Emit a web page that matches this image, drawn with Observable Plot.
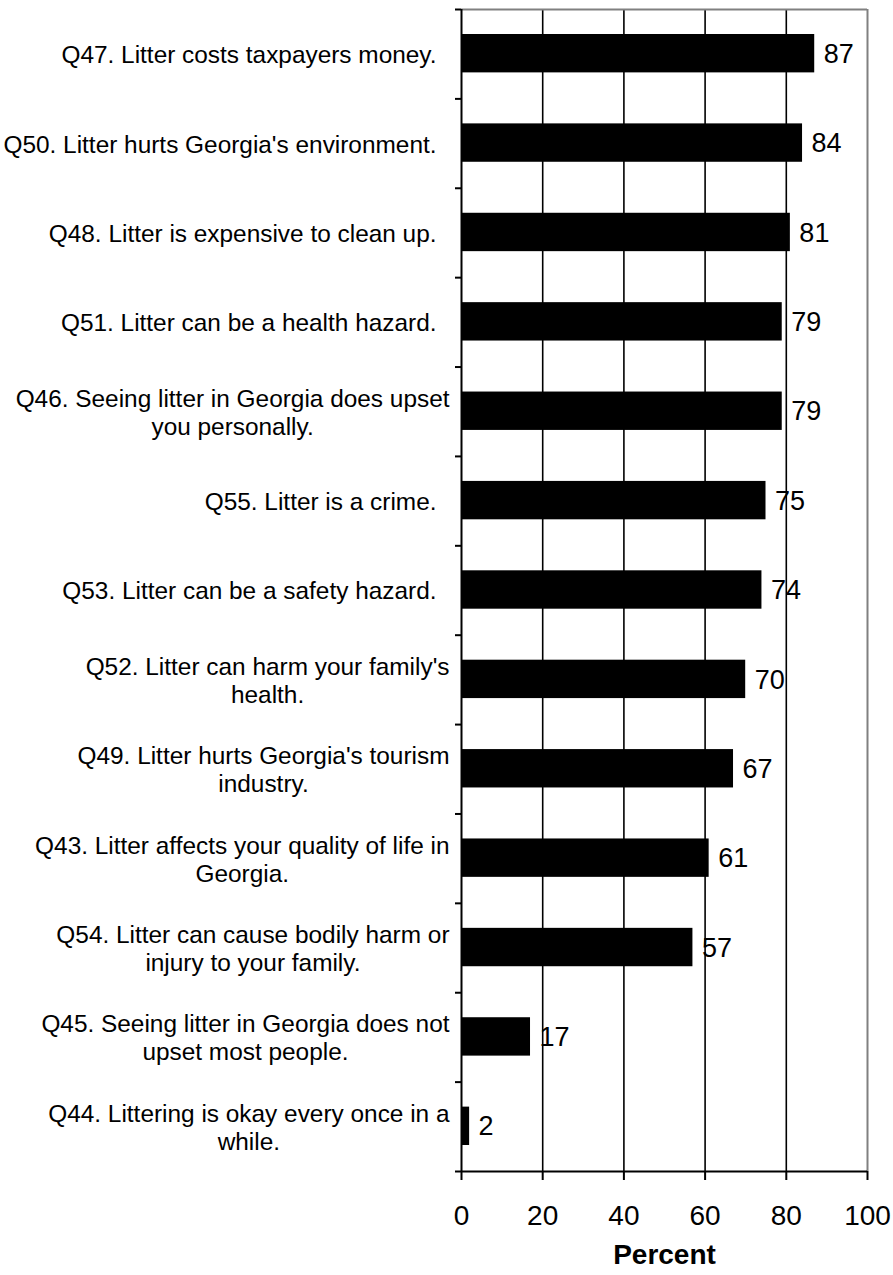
<!DOCTYPE html>
<html>
<head>
<meta charset="utf-8">
<script src="https://cdn.jsdelivr.net/npm/d3@7"></script>
<script src="https://cdn.jsdelivr.net/npm/@observablehq/plot@0.6"></script>
<style>
  html, body { margin: 0; padding: 0; background: #fff; }
  #chart svg { display: block; }
</style>
</head>
<body>
<div id="chart"></div>
<script>
// ---- data ----
const categories = [
  "Q47. Litter costs taxpayers money.",
  "Q50. Litter hurts Georgia's environment.",
  "Q48. Litter is expensive to clean up.",
  "Q51. Litter can be a health hazard.",
  "Q46. Seeing litter in Georgia does upset\nyou personally.",
  "Q55. Litter is a crime.",
  "Q53. Litter can be a safety hazard.",
  "Q52. Litter can harm your family's\nhealth.",
  "Q49. Litter hurts Georgia's tourism\nindustry.",
  "Q43. Litter affects your quality of life in\nGeorgia.",
  "Q54. Litter can cause bodily harm or\ninjury to your family.",
  "Q45. Seeing litter in Georgia does not\nupset most people.",
  "Q44. Littering is okay every once in a\nwhile."
];
const values = [87, 84, 81, 79, 79, 75, 74, 70, 67, 61, 57, 17, 2];
const xTicks = [0, 20, 40, 60, 80, 100];
const xLabel = "Percent";

const data = categories.map((c, i) => ({category: c, value: values[i], i}));

const FONT = "'Liberation Sans', Arial, Helvetica, sans-serif";
const LABEL_SIZE = 24.4;
const ctx = document.createElement("canvas").getContext("2d");
ctx.font = `${LABEL_SIZE}px ${FONT}`;
const blockWidth = s => d3.max(s.split("\n"), l => ctx.measureText(l).width);

const labelMarks = data.map(d => {
  const multi = d.category.includes("\n");
  const gap = multi ? 12 : 25;
  return Plot.text([d], {
    x: () => 0,
    y: r => r.i + 0.5,
    text: r => r.category,
    textAnchor: "middle",
    lineAnchor: "middle",
    lineHeight: 1.15,
    fontSize: LABEL_SIZE,
    fill: "black",
    dx: -(gap + blockWidth(d.category) / 2)
  });
});

const chart = Plot.plot({
  width: 893,
  height: 1275,
  marginTop: 9,
  marginBottom: 104,
  marginLeft: 461,
  marginRight: 26,
  style: {fontFamily: FONT, background: "white", color: "black"},
  x: {domain: [0, 100]},
  y: {domain: [0, categories.length], reverse: true},
  marks: [
    Plot.ruleX([20, 40, 60, 80], {stroke: "black", strokeWidth: 1.6}),
    Plot.ruleY([0], {stroke: "#808080", strokeWidth: 2}),
    Plot.ruleX([100], {stroke: "#808080", strokeWidth: 2}),
    Plot.rectX(data, {
      x1: 0, x2: "value",
      y1: d => d.i, y2: d => d.i + 1,
      insetTop: 25, insetBottom: 26,
      fill: "black"
    }),
    Plot.text(data, {
      x: "value", y: d => d.i + 0.5,
      text: d => String(d.value),
      textAnchor: "start", dx: 9,
      fontSize: 27, fill: "black"
    }),
    Plot.ruleX([0], {stroke: "black", strokeWidth: 2}),
    Plot.ruleY([categories.length], {stroke: "black", strokeWidth: 2}),
    Plot.axisY({
      ticks: d3.range(categories.length + 1),
      tickSize: 6, tickFormat: () => "", label: null,
      stroke: "black", strokeWidth: 2
    }),
    Plot.axisX({
      ticks: xTicks, tickSize: 9, tickPadding: 25,
      tickFormat: d => String(d), label: null,
      fontSize: 28, stroke: "black", strokeWidth: 2, fill: "black"
    }),
    Plot.text([xLabel], {
      frameAnchor: "bottom", text: d => d,
      dy: 92, fontSize: 28, fontWeight: "bold", fill: "black"
    }),
    ...labelMarks
  ]
});
document.getElementById("chart").appendChild(chart);
</script>
</body>
</html>
